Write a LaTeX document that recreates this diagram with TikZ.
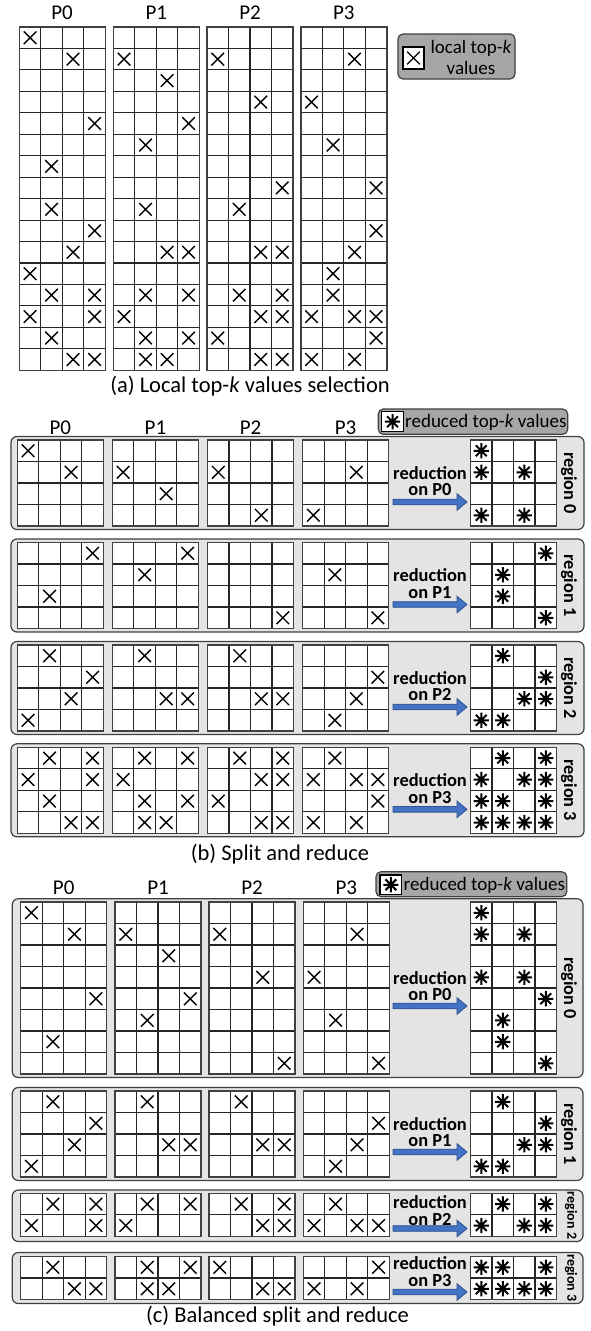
\documentclass[tikz,border=0pt]{standalone}
\usepackage{fontspec}
\setmainfont{Carlito}
\definecolor{boxgray}{HTML}{E4E4E4}
\definecolor{leggray}{HTML}{A6A6A6}
\definecolor{boxedge}{HTML}{404040}
\definecolor{arrowblue}{HTML}{4472C4}
\definecolor{arrowedge}{HTML}{2F528F}
\tikzset{
  gridline/.style={line width=1.1pt, draw=black!85},
  gridborder/.style={line width=1.4pt, draw=black!75},
  xmk/.style={line width=1.4pt, draw=black},
  astmk/.style={line width=2pt, draw=black},
  regionbox/.style={fill=boxgray, draw=boxedge, line width=1.2pt, rounded corners=6pt},
  legendbox/.style={fill=leggray, draw=boxedge, line width=1.2pt, rounded corners=5pt},
  iconbox/.style={fill=white, draw=black, line width=1.2pt},
  bluearrow/.style={fill=arrowblue, draw=arrowedge, line width=0.8pt},
  plabel/.style={font=\fontsize{21}{25}\selectfont, inner sep=0pt},
  caption/.style={font=\fontsize{22.5}{27}\selectfont, inner sep=0pt},
  legtext/.style={font=\fontsize{19}{21}\selectfont, inner sep=0pt},
  redtext/.style={font=\fontsize{18.4}{22}\selectfont\bfseries, inner sep=0pt},
  reglabel/.style={font=\fontsize{18.3}{22}\selectfont\bfseries, inner sep=0pt, rotate=-90},
  smallreglabel/.style={font=\fontsize{14}{16}\selectfont\bfseries, inner sep=0pt, rotate=-90},
}
% grid: x, y, rows, cw, ch
\newcommand\drawgrid[5]{%
  \begin{scope}[shift={(#1,#2)}]
    \fill[white] (0,0) rectangle ({4*#4},{#3*#5});
    \foreach \gi in {1,2,3} \draw[gridline] ({\gi*#4},0) -- ({\gi*#4},{#3*#5});
    \foreach \gj in {1,...,#3} \draw[gridline] (0,{\gj*#5}) -- ({4*#4},{\gj*#5});
    \draw[gridborder] (0,0) rectangle ({4*#4},{#3*#5});
  \end{scope}}
% cross marks: x, y, cw, ch, list row/col
\newcommand\xmarks[5]{%
  \foreach \ri/\ci in {#5} {
    \draw[xmk] ({#1+(\ci+0.5)*#3-6.3},{#2+(\ri+0.5)*#4-6.3}) -- ++(12.6,12.6)
               ({#1+(\ci+0.5)*#3-6.3},{#2+(\ri+0.5)*#4+6.3}) -- ++(12.6,-12.6);
  }}
% asterisk marks
\newcommand\amarks[5]{%
  \foreach \ri/\ci in {#5} {
    \begin{scope}[shift={({#1+(\ci+0.5)*#3},{#2+(\ri+0.5)*#4})}]
      \draw[astmk] (-7.6,0) -- (7.6,0) (0,-7.6) -- (0,7.6)
                   (-5.4,-5.4) -- (5.4,5.4) (-5.4,5.4) -- (5.4,-5.4);
    \end{scope}
  }}
% arrow at height y
\newcommand\redarrow[1]{%
  \draw[bluearrow] (393,{#1-2.8}) -- (457,{#1-2.8}) -- (457,{#1-8.3}) -- (467,#1)
     -- (457,{#1+8.3}) -- (457,{#1+2.8}) -- (393,{#1+2.8}) -- cycle;}
\begin{document}
\begin{tikzpicture}[x=1pt,y=-1pt]
\useasboundingbox (0,0) rectangle (590,1331);
\fill[white] (0,0) rectangle (590,1331);

%% ================= (a) =================
\def\cw{21.5}
\def\cha{21.45}
\node[plabel] (a-p0) at (62,12.7) {P0};
\node[plabel] (a-p1) at (156.3,12.7) {P1};
\node[plabel] (a-p2) at (250,12.7) {P2};
\node[plabel] (a-p3) at (343.8,12.7) {P3};
\drawgrid{19.3}{27}{16}{\cw}{\cha}
\drawgrid{113.3}{27}{16}{\cw}{\cha}
\drawgrid{207}{27}{16}{\cw}{\cha}
\drawgrid{300.8}{27}{16}{\cw}{\cha}
\xmarks{19.3}{27}{\cw}{\cha}{0/0,1/2,4/3,6/1,8/1,9/3,10/2,11/0,12/1,12/3,13/0,13/3,14/1,15/2,15/3}
\xmarks{113.3}{27}{\cw}{\cha}{1/0,2/2,4/3,5/1,8/1,10/2,10/3,12/1,12/3,13/0,14/1,14/3,15/1,15/2}
\xmarks{207}{27}{\cw}{\cha}{1/0,3/2,7/3,8/1,10/2,10/3,12/1,12/3,13/2,13/3,14/0,15/2,15/3}
\xmarks{300.8}{27}{\cw}{\cha}{1/2,3/0,5/1,7/3,9/3,10/2,11/1,12/1,13/0,13/2,13/3,14/3,15/0,15/2}
% legend (a)
\draw[legendbox] (398,34) rectangle (515,79);
\draw[iconbox] (403,47) rectangle (424,69);
\xmarks{403}{47}{21}{22}{0/0}
\node[legtext, align=center] (a-leg) at (471,57.5) {local top-\textit{k}\\values};
\node[caption] (a-cap) at (250,386) {(a) Local top-\textit{k} values selection};

%% ================= (b) =================
\def\chb{21.5}
\node[plabel] (b-p0) at (60.3,428) {P0};
\node[plabel] (b-p1) at (155.4,428) {P1};
\node[plabel] (b-p2) at (250.5,428) {P2};
\node[plabel] (b-p3) at (345.6,428) {P3};
\draw[legendbox] (378.3,409) rectangle (567.7,434.3);
\draw[iconbox] (381.7,411.7) rectangle (403.3,431.7);
\amarks{381.7}{411.7}{21.6}{20}{0/0}
\node[legtext, anchor=west] (b-leg) at (405,422) {reduced top-\textit{k} values};

\foreach \T in {440,542.5,645,747.3} {
  \draw[regionbox] (11,{\T-3.5}) rectangle (584,{\T+89.5});
  \drawgrid{17.3}{\T}{4}{\cw}{\chb}
  \drawgrid{112.4}{\T}{4}{\cw}{\chb}
  \drawgrid{207.5}{\T}{4}{\cw}{\chb}
  \drawgrid{302.6}{\T}{4}{\cw}{\chb}
  \drawgrid{470.5}{\T}{4}{\cw}{\chb}
  \redarrow{\T+62}
}
% region 0
\xmarks{17.3}{440}{\cw}{\chb}{0/0,1/2}
\xmarks{112.4}{440}{\cw}{\chb}{1/0,2/2}
\xmarks{207.5}{440}{\cw}{\chb}{1/0,3/2}
\xmarks{302.6}{440}{\cw}{\chb}{1/2,3/0}
\amarks{470.5}{440}{\cw}{\chb}{0/0,1/0,1/2,3/0,3/2}
\node[redtext] (b-r0a) at (430,473) {reduction};
\node[redtext] (b-r0b) at (430,490) {on P0};
\node[reglabel] (b-l0) at (569,483) {region 0};
% region 1
\xmarks{17.3}{542.5}{\cw}{\chb}{0/3,2/1}
\xmarks{112.4}{542.5}{\cw}{\chb}{0/3,1/1}
\xmarks{207.5}{542.5}{\cw}{\chb}{3/3}
\xmarks{302.6}{542.5}{\cw}{\chb}{1/1,3/3}
\amarks{470.5}{542.5}{\cw}{\chb}{0/3,1/1,2/1,3/3}
\node[redtext] (b-r1a) at (430,575.5) {reduction};
\node[redtext] (b-r1b) at (430,592.5) {on P1};
\node[reglabel] (b-l1) at (569,585.5) {region 1};
% region 2
\xmarks{17.3}{645}{\cw}{\chb}{0/1,1/3,2/2,3/0}
\xmarks{112.4}{645}{\cw}{\chb}{0/1,2/2,2/3}
\xmarks{207.5}{645}{\cw}{\chb}{0/1,2/2,2/3}
\xmarks{302.6}{645}{\cw}{\chb}{1/3,2/2,3/1}
\amarks{470.5}{645}{\cw}{\chb}{0/1,1/3,2/2,2/3,3/0,3/1}
\node[redtext] (b-r2a) at (430,678) {reduction};
\node[redtext] (b-r2b) at (430,695) {on P2};
\node[reglabel] (b-l2) at (569,688) {region 2};
% region 3
\xmarks{17.3}{747.3}{\cw}{\chb}{0/1,0/3,1/0,1/3,2/1,3/2,3/3}
\xmarks{112.4}{747.3}{\cw}{\chb}{0/1,0/3,1/0,2/1,2/3,3/1,3/2}
\xmarks{207.5}{747.3}{\cw}{\chb}{0/1,0/3,1/2,1/3,2/0,3/2,3/3}
\xmarks{302.6}{747.3}{\cw}{\chb}{0/1,1/0,1/2,1/3,2/3,3/0,3/2}
\amarks{470.5}{747.3}{\cw}{\chb}{0/1,0/3,1/0,1/2,1/3,2/0,2/1,2/3,3/0,3/1,3/2,3/3}
\node[redtext] (b-r3a) at (430,780.3) {reduction};
\node[redtext] (b-r3b) at (430,797.3) {on P3};
\node[reglabel] (b-l3) at (569,790.3) {region 3};
\node[caption] (b-cap) at (280,854) {(b) Split and reduce};

%% ================= (c) =================
\node[plabel] (c-p0) at (63.7,887.5) {P0};
\node[plabel] (c-p1) at (158,887.5) {P1};
\node[plabel] (c-p2) at (252,887.5) {P2};
\node[plabel] (c-p3) at (346.3,887.5) {P3};
\draw[legendbox] (376,871.7) rectangle (566.7,896.7);
\draw[iconbox] (380,875) rectangle (401.7,894.5);
\amarks{380}{875}{21.7}{19.5}{0/0}
\node[legtext, anchor=west] (c-leg) at (403.5,885) {reduced top-\textit{k} values};

% region 0 (8 rows)
\draw[regionbox] (12.3,898.7) rectangle (583,1077.5);
\drawgrid{20.7}{902}{8}{\cw}{\chb}
\drawgrid{115}{902}{8}{\cw}{\chb}
\drawgrid{209}{902}{8}{\cw}{\chb}
\drawgrid{303.3}{902}{8}{\cw}{\chb}
\drawgrid{470.5}{902}{8}{\cw}{\chb}
\xmarks{20.7}{902}{\cw}{\chb}{0/0,1/2,4/3,6/1}
\xmarks{115}{902}{\cw}{\chb}{1/0,2/2,4/3,5/1}
\xmarks{209}{902}{\cw}{\chb}{1/0,3/2,7/3}
\xmarks{303.3}{902}{\cw}{\chb}{1/2,3/0,5/1,7/3}
\amarks{470.5}{902}{\cw}{\chb}{0/0,1/0,1/2,3/0,3/2,4/3,5/1,6/1,7/3}
\node[redtext] (c-r0a) at (430,978) {reduction};
\node[redtext] (c-r0b) at (430,995) {on P0};
\redarrow{1006}
\node[reglabel] (c-l0) at (569,988) {region 0};

% region 1 (4 rows)
\draw[regionbox] (12.3,1087.5) rectangle (583,1180.5);
\drawgrid{20.7}{1091}{4}{\cw}{\chb}
\drawgrid{115}{1091}{4}{\cw}{\chb}
\drawgrid{209}{1091}{4}{\cw}{\chb}
\drawgrid{303.3}{1091}{4}{\cw}{\chb}
\drawgrid{470.5}{1091}{4}{\cw}{\chb}
\xmarks{20.7}{1091}{\cw}{\chb}{0/1,1/3,2/2,3/0}
\xmarks{115}{1091}{\cw}{\chb}{0/1,2/2,2/3}
\xmarks{209}{1091}{\cw}{\chb}{0/1,2/2,2/3}
\xmarks{303.3}{1091}{\cw}{\chb}{1/3,2/2,3/1}
\amarks{470.5}{1091}{\cw}{\chb}{0/1,1/3,2/2,2/3,3/0,3/1}
\node[redtext] (c-r1a) at (430,1124) {reduction};
\node[redtext] (c-r1b) at (430,1141) {on P1};
\redarrow{1152}
\node[reglabel] (c-l1) at (569,1134) {region 1};

% region 2 (2 rows)
\draw[regionbox] (12.3,1190) rectangle (583,1241.5);
\drawgrid{20.7}{1193.3}{2}{\cw}{\chb}
\drawgrid{115}{1193.3}{2}{\cw}{\chb}
\drawgrid{209}{1193.3}{2}{\cw}{\chb}
\drawgrid{303.3}{1193.3}{2}{\cw}{\chb}
\drawgrid{470.5}{1193.3}{2}{\cw}{\chb}
\xmarks{20.7}{1193.3}{\cw}{\chb}{0/1,0/3,1/0,1/3}
\xmarks{115}{1193.3}{\cw}{\chb}{0/1,0/3,1/0}
\xmarks{209}{1193.3}{\cw}{\chb}{0/1,0/3,1/2,1/3}
\xmarks{303.3}{1193.3}{\cw}{\chb}{0/1,1/0,1/2,1/3}
\amarks{470.5}{1193.3}{\cw}{\chb}{0/1,0/3,1/0,1/2,1/3}
\node[redtext] (c-r2a) at (430,1202.5) {reduction};
\node[redtext] (c-r2b) at (430,1219.5) {on P2};
\redarrow{1228.5}
\node[smallreglabel] (c-l2) at (571,1215.5) {region 2};

% region 3 (2 rows)
\draw[regionbox] (12.3,1252.5) rectangle (583,1303.5);
\drawgrid{20.7}{1256.5}{2}{\cw}{\chb}
\drawgrid{115}{1256.5}{2}{\cw}{\chb}
\drawgrid{209}{1256.5}{2}{\cw}{\chb}
\drawgrid{303.3}{1256.5}{2}{\cw}{\chb}
\drawgrid{470.5}{1256.5}{2}{\cw}{\chb}
\xmarks{20.7}{1256.5}{\cw}{\chb}{0/1,1/2,1/3}
\xmarks{115}{1256.5}{\cw}{\chb}{0/1,0/3,1/1,1/2}
\xmarks{209}{1256.5}{\cw}{\chb}{0/0,1/2,1/3}
\xmarks{303.3}{1256.5}{\cw}{\chb}{0/3,1/0,1/2}
\amarks{470.5}{1256.5}{\cw}{\chb}{0/0,0/1,0/3,1/0,1/1,1/2,1/3}
\node[redtext] (c-r3a) at (430,1263.5) {reduction};
\node[redtext] (c-r3b) at (430,1281) {on P3};
\redarrow{1292}
\node[smallreglabel] (c-l3) at (571,1278) {region 3};
\node[caption] (c-cap) at (277.5,1316) {(c) Balanced split and reduce};
\end{tikzpicture}
\end{document}
